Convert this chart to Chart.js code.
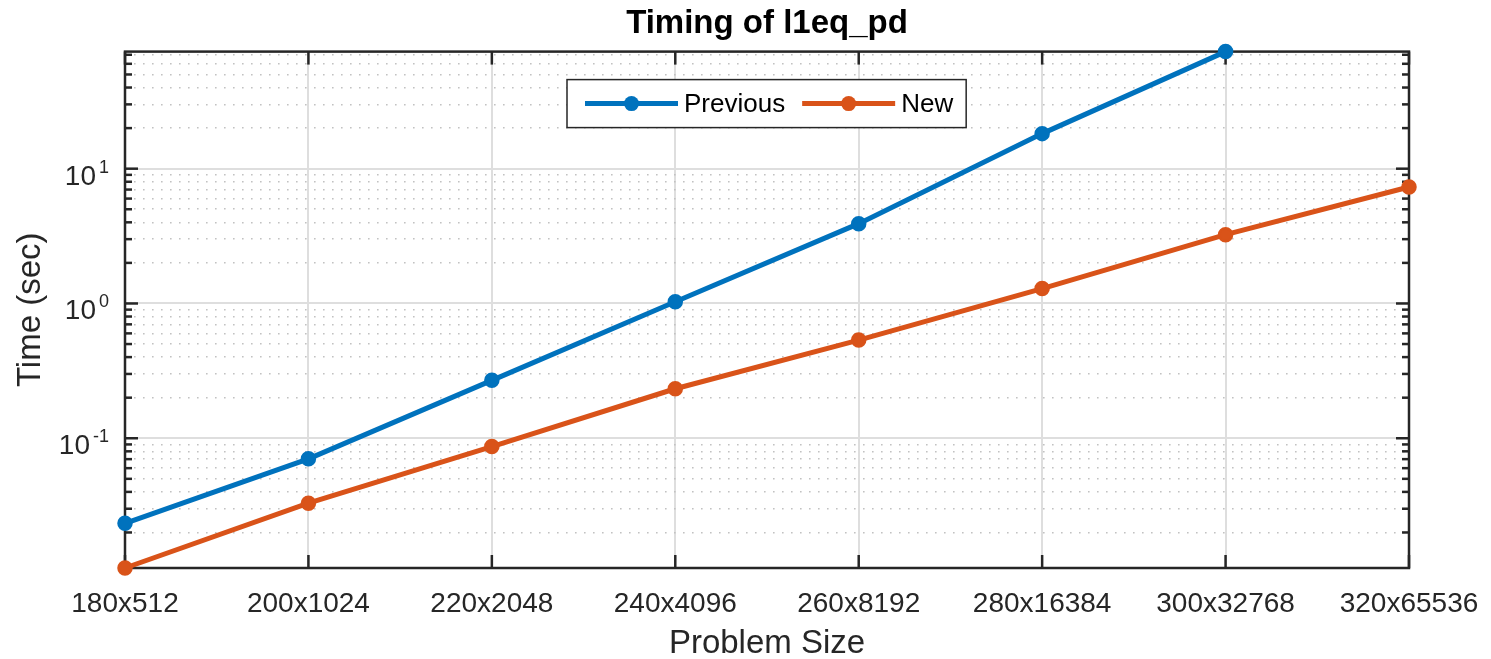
<!DOCTYPE html>
<html>
<head>
<meta charset="utf-8">
<title>Timing of l1eq_pd</title>
<script src="https://cdn.jsdelivr.net/npm/chart.js@4.4.1/dist/chart.umd.min.js"></script>
<style>
  html, body { margin: 0; padding: 0; background: #fff; }
  #wrap { width: 1491px; height: 659px; position: relative; }
</style>
</head>
<body>
<div id="wrap"><canvas id="timing"></canvas></div>
<script>
  "use strict";

  var problemSizes = ['180x512', '200x1024', '220x2048', '240x4096', '260x8192', '280x16384', '300x32768', '320x65536'];
  var previousTimes = [0.0234, 0.0704, 0.269, 1.03, 3.91, 18.2, 73.9];
  var newTimes = [0.0109, 0.033, 0.0868, 0.233, 0.535, 1.29, 3.24, 7.31];
  var decadeExponents = [-1, 0, 1];

  var FONT = '"Liberation Sans", Arial, Helvetica, sans-serif';
  var INK = '#262626';
  var allTimes = previousTimes.concat(newTimes);

  function isDecade(v) {
    var l = Math.log10(v);
    return Math.abs(l - Math.round(l)) < 1e-6;
  }

  // box around the plot with inward tick marks on all four sides
  var axesBox = {
    id: 'axesBox',
    beforeDatasetsDraw: function (chart) {
      var ctx = chart.ctx, a = chart.chartArea;
      var ys = chart.scales.y, xs = chart.scales.x;
      function seg(x1, y1, x2, y2) {
        ctx.beginPath(); ctx.moveTo(x1, y1); ctx.lineTo(x2, y2); ctx.stroke();
      }
      ctx.save();
      ctx.strokeStyle = INK;
      ctx.lineWidth = 2.5;
      ys.ticks.forEach(function (t) {
        var py = ys.getPixelForValue(t.value);
        var len = isDecade(t.value) ? 13 : 7;
        seg(a.left, py, a.left + len, py);
        seg(a.right, py, a.right - len, py);
      });
      problemSizes.forEach(function (s, i) {
        var px = xs.getPixelForValue(i);
        seg(px, a.bottom, px, a.bottom - 13);
        seg(px, a.top, px, a.top + 13);
      });
      ctx.strokeRect(a.left, a.top, a.right - a.left, a.bottom - a.top);
      ctx.restore();
    }
  };

  // 10^n labels on the log axis
  var decadeLabels = {
    id: 'decadeLabels',
    afterDraw: function (chart) {
      var ctx = chart.ctx, a = chart.chartArea, ys = chart.scales.y;
      ctx.save();
      ctx.fillStyle = INK;
      ctx.textAlign = 'left';
      ctx.textBaseline = 'alphabetic';
      decadeExponents.forEach(function (exp) {
        var py = ys.getPixelForValue(Math.pow(10, exp));
        var sup = exp < 0 ? '-' + Math.abs(exp) : String(exp);
        ctx.font = '28px ' + FONT;
        var baseW = ctx.measureText('10').width;
        ctx.font = '18px ' + FONT;
        var supW = ctx.measureText(sup).width;
        var x0 = a.left - 16 - supW - baseW - 3;
        ctx.font = '28px ' + FONT;
        ctx.fillText('10', x0, py + 16);
        ctx.font = '18px ' + FONT;
        ctx.fillText(sup, x0 + baseW + 3, py + 4);
      });
      ctx.restore();
    }
  };

  // boxed legend inside the plot, near the top
  var boxLegend = {
    id: 'boxLegend',
    afterDraw: function (chart) {
      var ctx = chart.ctx, a = chart.chartArea;
      var left = a.left + 442, top = a.top + 28, h = 48;
      var cy = top + h / 2;
      ctx.save();
      ctx.font = '26px ' + FONT;
      var x = left + 18;
      var items = chart.data.datasets.map(function (ds) {
        var it = { ds: ds, x: x };
        x += 99 + ctx.measureText(ds.label).width + 17;
        return it;
      });
      var w = x - 17 + 13 - left;
      ctx.fillStyle = '#fff';
      ctx.fillRect(left, top, w, h);
      ctx.strokeStyle = INK;
      ctx.lineWidth = 1.5;
      ctx.strokeRect(left, top, w, h);
      items.forEach(function (it) {
        ctx.strokeStyle = it.ds.borderColor;
        ctx.lineWidth = 5;
        ctx.beginPath(); ctx.moveTo(it.x, cy); ctx.lineTo(it.x + 93, cy); ctx.stroke();
        ctx.fillStyle = it.ds.borderColor;
        ctx.beginPath(); ctx.arc(it.x + 46.5, cy, 7.5, 0, Math.PI * 2); ctx.fill();
        ctx.fillStyle = '#000';
        ctx.textBaseline = 'middle';
        ctx.fillText(it.ds.label, it.x + 99, cy + 1);
      });
      ctx.restore();
    }
  };

  var ctxTiming = document.getElementById('timing').getContext('2d');
  var timingChart = new Chart(ctxTiming, {
    type: 'line',
    data: {
      labels: problemSizes,
      datasets: [
        {
          label: 'Previous',
          data: previousTimes,
          borderColor: '#0072BD',
          backgroundColor: '#0072BD',
          borderWidth: 5,
          pointRadius: 6.5,
          pointBorderWidth: 2.5,
          pointHoverRadius: 6.5,
          tension: 0,
          clip: false
        },
        {
          label: 'New',
          data: newTimes,
          borderColor: '#D95319',
          backgroundColor: '#D95319',
          borderWidth: 5,
          pointRadius: 6.5,
          pointBorderWidth: 2.5,
          pointHoverRadius: 6.5,
          tension: 0,
          clip: false
        }
      ]
    },
    options: {
      responsive: true,
      maintainAspectRatio: false,
      animation: false,
      layout: { padding: { top: 0, right: 82, bottom: 0, left: 0 } },
      scales: {
        x: {
          type: 'category',
          offset: false,
          afterFit: function (scale) { scale.height = 91; },
          // invisible tick marks only push the labels down
          grid: { color: '#dedede', lineWidth: 2, drawTicks: true, tickLength: 16, tickColor: 'rgba(0,0,0,0)' },
          border: { display: false },
          ticks: {
            autoSkip: false,
            maxRotation: 0,
            padding: 3,
            color: INK,
            font: { family: FONT, size: 28 }
          },
          title: {
            display: true,
            text: 'Problem Size',
            color: INK,
            font: { family: FONT, size: 33, lineHeight: 0.9 },
            padding: { top: 0, bottom: 0 }
          }
        },
        y: {
          type: 'logarithmic',
          min: Math.min.apply(null, allTimes),
          max: Math.max.apply(null, allTimes),
          afterFit: function (scale) { scale.width = 125; },
          afterBuildTicks: function (scale) {
            var ticks = [];
            for (var e = -3; e <= 3; e++) {
              for (var k = 1; k <= 9; k++) {
                var v = parseFloat((k * Math.pow(10, e)).toPrecision(3));
                if (v >= scale.min && v <= scale.max) ticks.push({ value: v, major: k === 1 });
              }
            }
            scale.ticks = ticks;
          },
          grid: {
            drawTicks: false,
            color: function (c) { return c.tick && isDecade(c.tick.value) ? '#dedede' : '#c2c2c2'; },
            lineWidth: function (c) { return c.tick && isDecade(c.tick.value) ? 2 : 1.6; }
          },
          border: {
            display: false,
            dash: function (c) { return c.tick && !isDecade(c.tick.value) ? [1.6, 7.4] : []; }
          },
          ticks: { display: false },
          title: {
            display: true,
            text: 'Time (sec)',
            color: INK,
            font: { family: FONT, size: 33 },
            padding: { top: 11, bottom: 0 }
          }
        }
      },
      plugins: {
        legend: { display: false },
        tooltip: { enabled: false },
        title: {
          display: true,
          fullSize: false,
          text: 'Timing of l1eq_pd',
          color: '#000',
          font: { family: FONT, size: 33, weight: 'bold' },
          padding: { top: 4, bottom: 8 }
        }
      }
    },
    plugins: [axesBox, decadeLabels, boxLegend]
  });
</script>
</body>
</html>
